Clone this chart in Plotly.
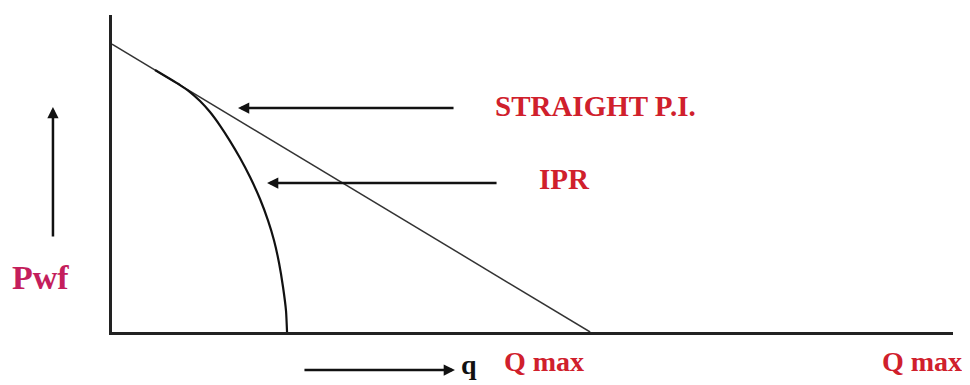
import plotly.graph_objects as go

# IPR sketch: flow rate q vs flowing bottom-hole pressure Pwf,
# both normalised (1.0 = straight-line Qmax / reservoir pressure)
straight_q = [0.0, 1.0]
straight_pwf = [1.0, 0.0]

ipr_q = [0.0900, 0.1172, 0.1423, 0.1632, 0.1841, 0.2050, 0.2259, 0.2469, 0.2678,
         0.2887, 0.3096, 0.3264, 0.3389, 0.3494, 0.3577, 0.3640, 0.3661]
ipr_pwf = [0.9101, 0.8830, 0.8576, 0.8333, 0.8021, 0.7639, 0.7170, 0.6632, 0.6042,
           0.5382, 0.4618, 0.3868, 0.3181, 0.2396, 0.1563, 0.0729, 0.0]

q_range = [0, 1.759]
pwf_range = [0, 1.101]

RED = "#d0202c"
PINK = "#c41e5c"
SERIF = "Liberation Serif, Times New Roman, serif"

fig = go.Figure()

fig.add_trace(go.Scatter(x=straight_q, y=straight_pwf, mode="lines",
                         line=dict(color="#333333", width=1.5),
                         hoverinfo="skip", showlegend=False))
fig.add_trace(go.Scatter(x=ipr_q, y=ipr_pwf, mode="lines",
                         line=dict(color="#111111", width=2.2, shape="spline", smoothing=0.5),
                         hoverinfo="skip", showlegend=False))

arrow = dict(showarrow=True, arrowhead=2, arrowsize=0.9, arrowwidth=2.5,
             arrowcolor="#111111", standoff=0, text="")

# pointers to the two curves
fig.add_annotation(x=0.2636, y=0.7778, ax=217, ay=0, **arrow)
fig.add_annotation(x=0.3243, y=0.5174, ax=231, ay=0, **arrow)
# axis direction arrows (outside the plot area)
fig.add_annotation(x=-0.0702, y=0.7098, xref="paper", yref="paper", ax=0, ay=131, **arrow)
fig.add_annotation(x=0.4078, y=-0.1199, xref="paper", yref="paper", ax=-152, ay=0, **arrow)

# labels
fig.add_annotation(x=0.797, y=0.785, text="<b>STRAIGHT P.I.</b>", showarrow=False,
                   xanchor="left", yanchor="middle", font=dict(family=SERIF, size=29, color=RED))
fig.add_annotation(x=0.889, y=0.531, text="<b>IPR</b>", showarrow=False,
                   xanchor="left", yanchor="middle", font=dict(family=SERIF, size=29, color=RED))
fig.add_annotation(x=-0.1213, y=0.1735, xref="paper", yref="paper", text="<b>Pwf</b>",
                   showarrow=False, xanchor="left", yanchor="middle",
                   font=dict(family=SERIF, size=34, color=PINK))
fig.add_annotation(x=0.4637, y=-0.0915, xref="paper", yref="paper", text="<b>Q max</b>",
                   showarrow=False, xanchor="left", yanchor="middle",
                   font=dict(family=SERIF, size=28, color=RED))
fig.add_annotation(x=0.9132, y=-0.0915, xref="paper", yref="paper", text="<b>Q max</b>",
                   showarrow=False, xanchor="left", yanchor="middle",
                   font=dict(family=SERIF, size=28, color=RED))
fig.add_annotation(x=0.4126, y=-0.0473, xref="paper", yref="paper", text="<b>q</b>",
                   showarrow=False, xanchor="left", yanchor="top",
                   font=dict(family=SERIF, size=28, color="#111111"))

axis_style = dict(showline=True, linecolor="#222222", linewidth=2.5, showgrid=False,
                  zeroline=False, showticklabels=False, ticks="", fixedrange=True)

fig.update_xaxes(range=q_range, **axis_style)
fig.update_yaxes(range=pwf_range, **axis_style)

# page body has an 8px default margin, so the figure is 8px smaller than the window
fig.update_layout(width=962, height=377, margin=dict(l=104, r=17, t=7, b=53),
                  paper_bgcolor="white", plot_bgcolor="white", showlegend=False)

fig.write_html("out.html")
